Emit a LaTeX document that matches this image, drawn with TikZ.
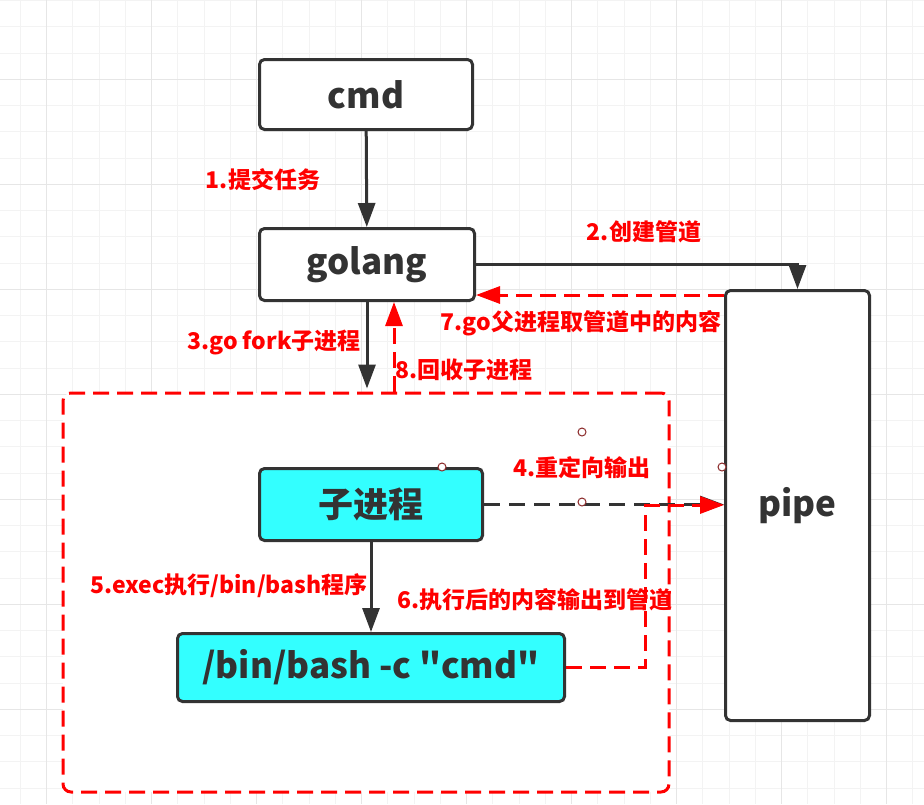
\documentclass[tikz,border=0pt]{standalone}
\usepackage{fontspec}
\setmainfont{Noto Sans CJK SC}
\newfontfamily\rawfont{Noto Sans CJK SC}[Ligatures=ResetAll]
\usetikzlibrary{arrows.meta, positioning}
\definecolor{inkgray}{HTML}{333333}
\definecolor{linered}{HTML}{FF0000}
\definecolor{boxcyan}{HTML}{33FFFF}
\definecolor{gridfine}{HTML}{F3F3F3}
\definecolor{gridbold}{HTML}{E6E6E6}
\definecolor{handlered}{HTML}{8B2A2A}

\begin{document}
\begin{tikzpicture}[x=1pt, y=-1pt]
        % Define styles
        \tikzset{
            box/.style={draw=inkgray, line width=3pt, rounded corners=5pt, fill=white, text=inkgray, inner sep=0pt, font=\fontsize{35}{40}\selectfont\bfseries},
            cyanbox/.style={box, fill=boxcyan},
            zone/.style={draw=linered, line width=3pt, dash pattern=on 16pt off 8pt, rounded corners=8pt, fill=white, inner sep=0pt},
            flow/.style={draw=inkgray, line width=3pt, -{Triangle[length=24pt, width=17pt]}},
            gflow/.style={flow, dash pattern=on 16pt off 9pt},
            rflow/.style={draw=linered, line width=3pt, dash pattern=on 16pt off 8pt, -{Triangle[length=24pt, width=17pt, fill=linered]}},
            redlabel/.style={text=linered, font=\fontsize{23}{27}\selectfont\bfseries, inner sep=0pt},
            handle/.style={circle, draw=handlered, line width=1pt, fill=white, minimum size=8pt, inner sep=0pt}
        }
        % Page and grid
        \useasboundingbox (0,0) rectangle (924,804);
        \fill[white] (0,0) rectangle (924,804);
        \foreach \i in {0,...,34} \draw[gridfine, line width=1pt] ({20.45+26.25*\i},0) -- ++(0,804);
        \foreach \j in {0,...,30} \draw[gridfine, line width=1pt] (0,{0.55+26.25*\j}) -- ++(924,0);
        \foreach \i in {0,...,8} \draw[gridbold, line width=1pt] ({46.7+105*\i},0) -- ++(0,804);
        \foreach \j in {0,...,7} \draw[gridbold, line width=1pt] (0,{79.3+105*\j}) -- ++(924,0);
        % Child process area
        \node[zone, minimum width=606pt, minimum height=399pt] (area) at (366,592.5) {};
        % Boxes
        \node[box, minimum width=213pt, minimum height=70pt] (cmd) at (366,94.5) {cmd};
        \node[box, minimum width=215pt, minimum height=72pt] (golang) at (367,264.5) {golang};
        \node[box, minimum width=144pt, minimum height=430pt] (pipe) at (797.5,505.5) {pipe};
        \node[cyanbox, minimum width=223pt, minimum height=72pt] (child) at (371,504.5) {子进程};
        \node[cyanbox, minimum width=387pt, minimum height=68pt] (bash) at (371,667.5) {\rawfont\bfseries /bin/bash -c "cmd"};
        % Solid steps
        \draw[flow] (cmd) -- (golang);
        \draw[flow] (golang.east) -| (pipe.north);
        \draw[flow] (golang.south) -- ([yshift=3pt]golang.south |- area.north);
        \draw[flow] (child) -- (bash);
        % Dashed steps
        \draw[gflow] (child.east) -- (child.east -| pipe.west);
        \coordinate (bend) at (645,505);
        \draw[rflow] (bash.east) -| (bend) -- (bend -| pipe.west);
        \draw[rflow] ([yshift=-6pt]pipe.north west) coordinate (back) -- (back -| golang.east);
        \draw[rflow] ([xshift=27pt]golang.south |- area.north) -- ([xshift=27pt]golang.south);
        % Step labels
        \node[redlabel] (l1) at (263,180) {1.提交任务};
        \node[redlabel] (l2) at (644,232) {2.创建管道};
        \node[redlabel] (l3) at (274,343) {3.go fork子进程};
        \node[redlabel] (l4) at (582,468) {4.重定向输出};
        \node[redlabel] (l5) at (229,586) {5.exec执行/bin/bash程序};
        \node[redlabel] (l6) at (535,600) {6.执行后的内容输出到管道};
        \node[redlabel] (l7) at (581,323) {7.go父进程取管道中的内容};
        \node[redlabel] (l8) at (464,370) {8.回收子进程};
        % Selection handles
        \node[handle] (h1) at (442,467) {};
        \node[handle] (h2) at (582,432) {};
        \node[handle] (h3) at (582,502) {};
        \node[handle] (h4) at (722,467) {};
    \end{tikzpicture}
\end{document}
